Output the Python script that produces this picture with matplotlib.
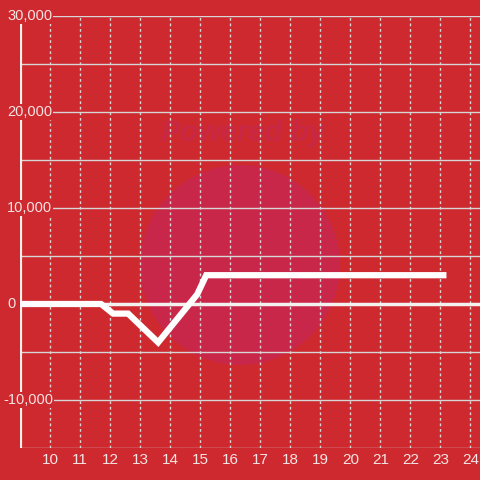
import matplotlib
matplotlib.use("Agg")
import matplotlib.pyplot as plt
from matplotlib.patches import Circle

# data
x_vals = [9.0, 11.7, 12.1, 12.6, 13.2, 13.6, 14.9, 15.2, 23.2]
y_vals = [0, 0, -1000, -1000, -2800, -4000, 1000, 3000, 3000]
x_ticks = list(range(10, 25))
y_major = [-10000, 0, 10000, 20000, 30000]
y_labels = ["-10,000", "0", "10,000", "20,000", "30,000"]
y_minor = [-15000, -5000, 5000, 15000, 25000]

BG = "#cd292e"
TXT = "#f4e4e4"
GRID = "#d6d6d6"

plt.rcParams['font.family'] = ['Liberation Sans', 'DejaVu Sans']

fig = plt.figure(figsize=(4.8, 4.8), dpi=100, facecolor=BG)
ax = fig.add_axes([20/480, 1-448/480, 460/480, 432/480])
ax.set_facecolor(BG)
ax.set_xlim(9, 24.317)
ax.set_ylim(-15000, 30000)

# watermark
circ = Circle((240/480, 1-265/480), 100/480, transform=fig.transFigure,
              facecolor="#c9274a", edgecolor="none", zorder=0.5)
ax.add_patch(circ)
ax.text(243/480, 1-133/480, "Powered by", color="#c92844", fontsize=21,
        fontweight="bold", style="italic", ha="center", va="center",
        transform=fig.transFigure, zorder=0.6)

for s in ax.spines.values():
    s.set_visible(False)

# grid
for v in x_ticks:
    ax.axvline(v, color=GRID, lw=1, ls=(0, (2, 2)), zorder=1)
for v in y_major + y_minor:
    if v == 0:
        continue
    ax.axhline(v, color=GRID, lw=1, zorder=1)
ax.axhline(0, color="#f3f0f0", lw=2.5, zorder=2)
ax.axvline(9, color="#f3f0f0", lw=3, zorder=2)

ax.plot(x_vals, y_vals, color="white", lw=4.5, solid_joinstyle="miter",
        solid_capstyle="butt", zorder=5)

ax.set_xticks([])
ax.set_yticks([])

for v, lab in zip(y_major, y_labels):
    xp = 3/480 if lab.startswith("-") else 7/480
    fig.text(xp, 1 - (304 - v/10000*96)/480, lab, color=TXT, fontsize=10.5,
             ha="left", va="center", zorder=10,
             bbox=dict(facecolor=BG, edgecolor="none", pad=0.5))
for v in x_ticks:
    ax.text(v, -15550, str(v), color=TXT, fontsize=11, ha="center", va="top",
            clip_on=False)

fig.savefig("out.png", dpi=100, facecolor=BG)
